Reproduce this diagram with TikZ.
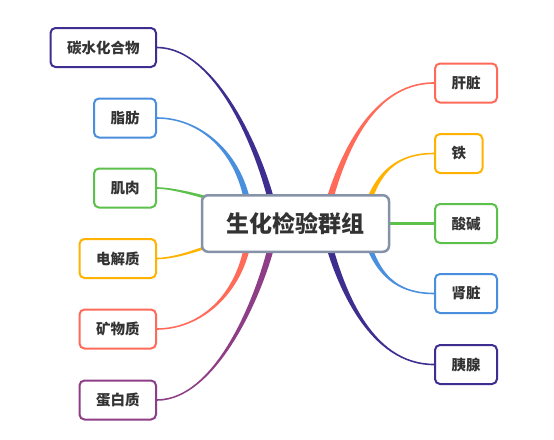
\documentclass[tikz,border=0pt]{standalone}
\usepackage{fontspec}
\newfontfamily\cjk{Noto Sans CJK SC}
\usetikzlibrary{calc}
\definecolor{cIndigo}{HTML}{3D2E8F}
\definecolor{cBlue}{HTML}{4A8FDD}
\definecolor{cGreen}{HTML}{5CC14A}
\definecolor{cAmber}{HTML}{FFB300}
\definecolor{cSalmon}{HTML}{FF6B58}
\definecolor{cPurple}{HTML}{8E3E86}
\definecolor{cHub}{HTML}{8592A8}
\definecolor{txt}{HTML}{333333}
% #1 colour, #2 start, #3 first control, #4 end (child anchor), #5 handle length, #6 start half-width, #7 end half-width
\newcommand\tbranch[7]{%
  \path (#4) ++(#5,0) coordinate (tbc);
  \fill[#1] ($#2+#6$) .. controls ($#3+#6$) and ($(tbc)+#7$) .. ($(#4)+#7$)
    -- ($(#4)-#7$) .. controls ($(tbc)-#7$) and ($#3-#6$) .. ($#2-#6$) -- cycle;}
\begin{document}
\begin{tikzpicture}[x=1pt,y=-1pt,
  kid/.style={draw, line width=2pt, rounded corners=5pt, fill=white,
    inner xsep=16.5pt, inner ysep=0pt, minimum height=39pt,
    font=\cjk\bfseries\fontsize{14.5}{16}\selectfont, text=txt},
  hubbox/.style={draw=cHub, line width=2.5pt, rounded corners=6pt, fill=white,
    inner xsep=24.5pt, inner ysep=0pt, minimum height=56.5pt,
    font=\cjk\bfseries\fontsize{23}{26}\selectfont, text=txt}]
\fill[white] (0,0) rectangle (554,439);
\useasboundingbox (0,0) rectangle (554,439);
\coordinate (hub) at (295.5,223.5);
% children
\node[kid, draw=cIndigo, anchor=east] (k1) at (157,47.5) {碳水化合物};
\node[kid, draw=cBlue, anchor=east] (k2) at (157,118) {脂肪};
\node[kid, draw=cGreen, anchor=east] (k3) at (157,188) {肌肉};
\node[kid, draw=cAmber, anchor=east] (k4) at (157,258.5) {电解质};
\node[kid, draw=cSalmon, anchor=east] (k5) at (157,329) {矿物质};
\node[kid, draw=cPurple, anchor=east] (k6) at (157,400) {蛋白质};
\node[kid, draw=cSalmon, anchor=west] (r1) at (434,83) {肝脏};
\node[kid, draw=cAmber, anchor=west] (r2) at (434,153.5) {铁};
\node[kid, draw=cGreen, anchor=west] (r3) at (434,223.5) {酸碱};
\node[kid, draw=cBlue, anchor=west] (r4) at (434,293.5) {肾脏};
\node[kid, draw=cIndigo, anchor=west] (r5) at (434,364.5) {胰腺};
% connectors
\tbranch{cIndigo}{(hub)+(-19.5,-1.5)}{(hub)+(-30.5,-63.5)}{k1.east}{61}{(3.4,0)}{(0,-0.8)}
\tbranch{cBlue}{(hub)+(-45.5,1.5)}{(hub)+(-47.5,-63.5)}{k2.east}{48}{(3.3,0)}{(0,-0.8)}
\tbranch{cGreen}{(hub)+(-65.5,-18.5)}{(hub)+(-85.5,-25.5)}{k3.east}{17}{(0,1.8)}{(0,0.8)}
\tbranch{cAmber}{(hub)+(-65.5,14.5)}{(hub)+(-83.5,21.5)}{k4.east}{22}{(0,1.8)}{(0,0.8)}
\tbranch{cSalmon}{(hub)+(-45.5,-1.5)}{(hub)+(-47.5,63.5)}{k5.east}{48}{(3.3,0)}{(0,0.8)}
\tbranch{cPurple}{(hub)+(-19.5,1.5)}{(hub)+(-30.5,63.5)}{k6.east}{61}{(3.4,0)}{(0,0.8)}
\tbranch{cSalmon}{(hub)+(27.5,1.5)}{(hub)+(42.5,-63.5)}{r1.west}{-64}{(3.6,0)}{(0,0.8)}
\tbranch{cAmber}{(hub)+(66.5,1.5)}{(hub)+(76.5,-43.5)}{r2.west}{-44}{(3.2,0)}{(0,0.8)}
\tbranch{cGreen}{(hub)+(60,0)}{(hub)+(100,0)}{r3.west}{-10}{(0,1.5)}{(0,1.4)}
\tbranch{cBlue}{(hub)+(66.5,-1.5)}{(hub)+(76.5,43.5)}{r4.west}{-44}{(3.2,0)}{(0,-0.8)}
\tbranch{cIndigo}{(hub)+(27.5,-1.5)}{(hub)+(42.5,63.5)}{r5.west}{-64}{(3.6,0)}{(0,-0.8)}
% central topic
\node[hubbox] (c) at (hub) {生化检验群组};
\end{tikzpicture}
\end{document}
